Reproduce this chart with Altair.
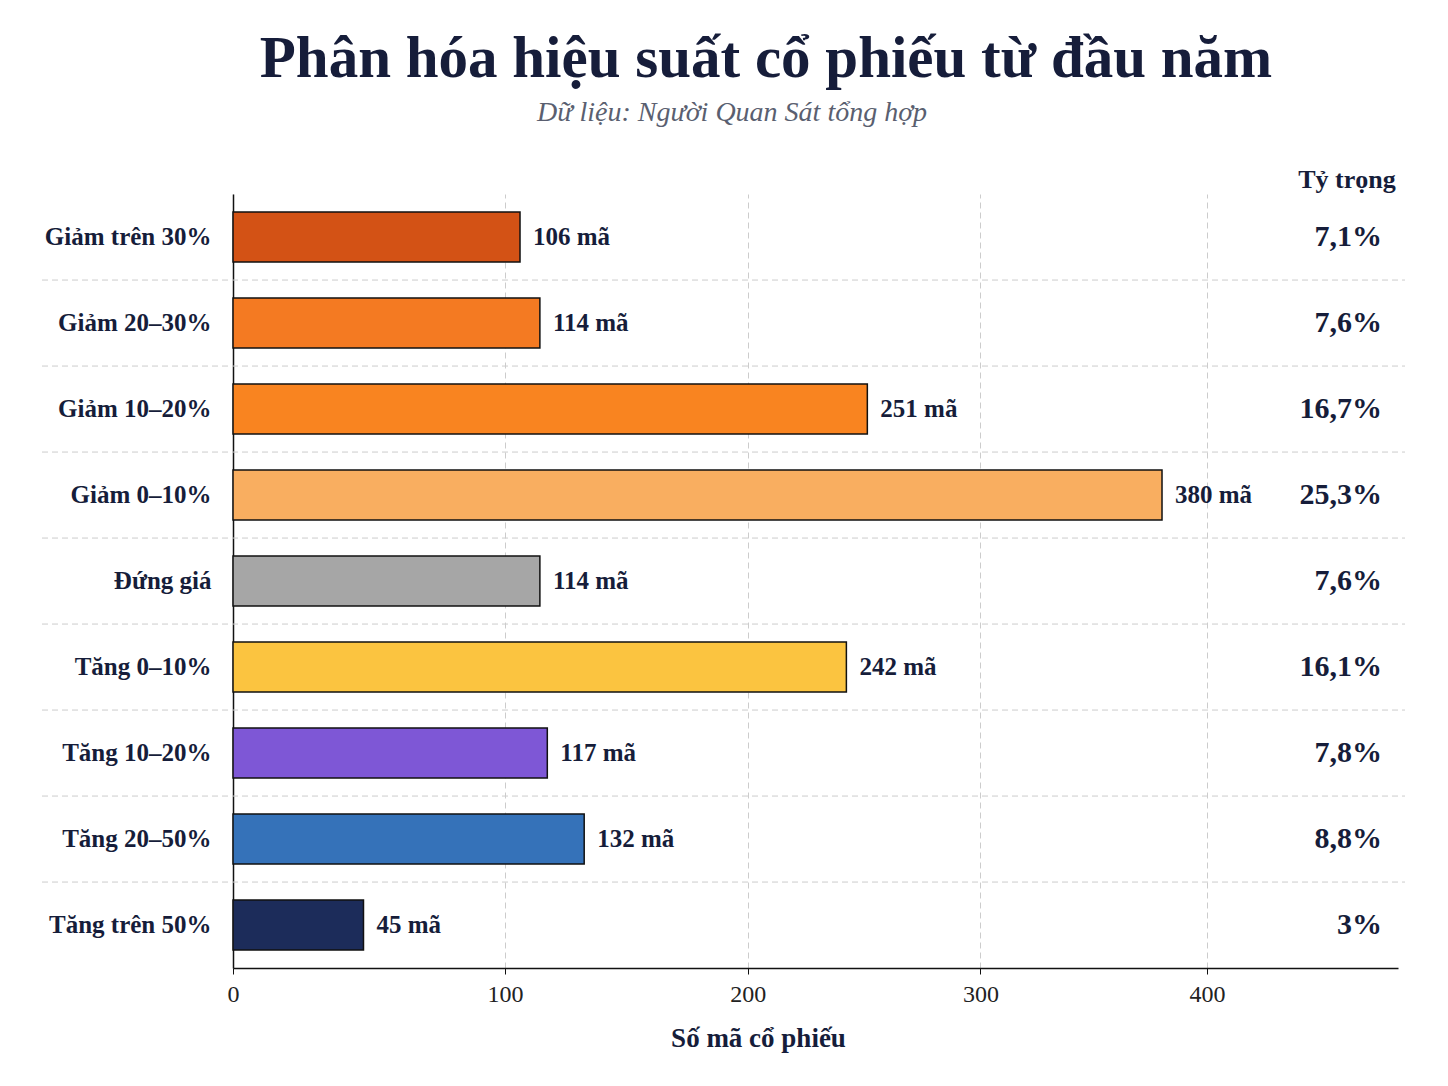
import altair as alt
import pandas as pd

categories = ["Giảm trên 30%", "Giảm 20–30%", "Giảm 10–20%", "Giảm 0–10%", "Đứng giá",
              "Tăng 0–10%", "Tăng 10–20%", "Tăng 20–50%", "Tăng trên 50%"]
counts = [106, 114, 251, 380, 114, 242, 117, 132, 45]
shares = ["7,1%", "7,6%", "16,7%", "25,3%", "7,6%", "16,1%", "7,8%", "8,8%", "3%"]
colors = ["#d35215", "#f47a22", "#f98420", "#f9ae60", "#a6a6a6",
          "#fbc440", "#7e57d6", "#3572b9", "#1c2c5a"]
x_ticks = [0, 100, 200, 300, 400]
title_text = "Phân hóa hiệu suất cổ phiếu từ đầu năm"
subtitle_text = "Dữ liệu: Người Quan Sát tổng hợp"

FONT = "Liberation Serif"
NAVY = "#161d3a"

df = pd.DataFrame({
    "cat": categories,
    "count": counts,
    "label": [f"{c} mã" for c in counts],
    "share": shares,
})
sep_df = pd.DataFrame({"cat": categories[1:]})
hdr_df = pd.DataFrame({"t": ["Tỷ trọng"]})
ttl_df = pd.DataFrame({"t": [title_text]})
sub_df = pd.DataFrame({"t": [subtitle_text]})

W, H = 1165, 774
y_scale = alt.Scale(domain=categories, paddingInner=0.42, paddingOuter=0.21)
x_scale = alt.Scale(type="pow", exponent=0.92, domain=[0, 486], nice=False, zero=True)

x_axis = alt.Axis(values=x_ticks, title="Số mã cổ phiếu", titleFont=FONT, titleFontSize=27,
                  titleFontWeight="bold", titleColor=NAVY, titleX=525, titleY=78,
                  titleBaseline="alphabetic",
                  labelFont=FONT, labelFontSize=24, labelColor="#222222", labelPadding=8,
                  labelFlush=False,
                  tickSize=6, tickColor="#111111", domainColor="#111111", domainWidth=1.5,
                  grid=True, gridDash=[6, 4], gridColor="#cccccc", gridWidth=1)
y_axis = alt.Axis(title=None, labelFont=FONT, labelFontSize=25, labelFontWeight="bold",
                  labelColor=NAVY, labelPadding=22, ticks=False, domainColor="#111111",
                  domainWidth=1.5, grid=False)

seps = alt.Chart(sep_df).mark_rule(color="#cccccc", strokeDash=[6, 4], strokeWidth=1).encode(
    y=alt.Y("cat:N", scale=y_scale, axis=y_axis, bandPosition=0),
    yOffset=alt.value(-18),
    x=alt.value(-191),
    x2=alt.value(1172),
)

bars = alt.Chart(df).mark_bar(stroke="#111111", strokeWidth=1.5, cornerRadius=0).encode(
    y=alt.Y("cat:N", scale=y_scale, axis=y_axis, sort=categories),
    x=alt.X("count:Q", scale=x_scale, axis=x_axis),
    color=alt.Color("cat:N", scale=alt.Scale(domain=categories, range=colors), legend=None),
)

vals = alt.Chart(df).mark_text(align="left", baseline="middle", dx=13, font=FONT,
                                fontSize=25, fontWeight="bold", color=NAVY).encode(
    y=alt.Y("cat:N", scale=y_scale, axis=y_axis),
    x=alt.X("count:Q", scale=x_scale, axis=x_axis),
    text="label:N",
)

pct = alt.Chart(df).mark_text(align="right", baseline="middle", font=FONT,
                               fontSize=30, fontWeight="bold", color=NAVY).encode(
    y=alt.Y("cat:N", scale=y_scale, axis=y_axis),
    x=alt.value(1149),
    text="share:N",
)

hdr = alt.Chart(hdr_df).mark_text(align="center", baseline="alphabetic", font=FONT,
                                   fontSize=26, fontWeight="bold", color=NAVY).encode(
    x=alt.value(1114),
    y=alt.value(-6),
    text="t:N",
)

ttl = alt.Chart(ttl_df).mark_text(align="center", baseline="alphabetic", font=FONT,
                                   fontSize=59, fontWeight="bold", color=NAVY).encode(
    x=alt.value(533),
    y=alt.value(-117),
    text="t:N",
)

sub = alt.Chart(sub_df).mark_text(align="center", baseline="alphabetic", font=FONT,
                                   fontSize=28, fontStyle="italic", color="#5a5f70").encode(
    x=alt.value(499),
    y=alt.value(-73),
    text="t:N",
)

chart = alt.layer(seps, bars, vals, pct, hdr, ttl, sub).properties(
    width=W, height=H,
    autosize=alt.AutoSizeParams(type="none"),
    padding={"left": 233, "top": 194, "right": 50, "bottom": 118},
    background="#ffffff",
).configure_view(stroke=None)

chart.save("out.html", embed_options={"renderer": "svg", "actions": False})
